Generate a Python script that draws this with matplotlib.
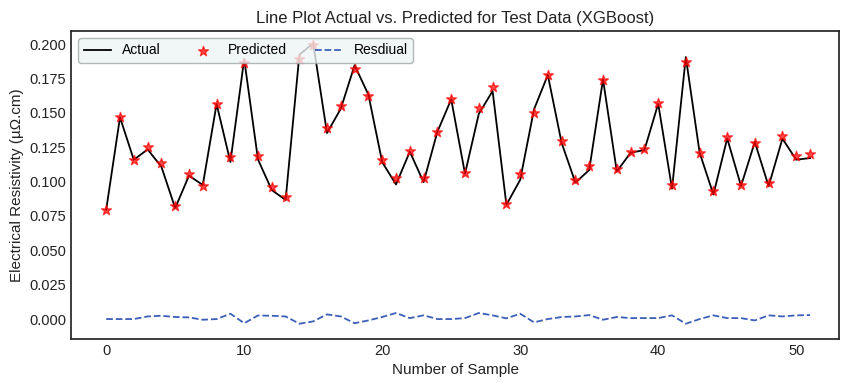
import matplotlib
matplotlib.use("Agg")
import matplotlib.pyplot as plt
import numpy as np

samples = list(range(52))
actual = [0.0795, 0.1467, 0.1158, 0.1234, 0.1108, 0.0807, 0.1043, 0.0975, 0.1564, 0.1142,
          0.1890, 0.1160, 0.0938, 0.0866, 0.1923, 0.2005, 0.1353, 0.1530, 0.1846, 0.1632,
          0.1141, 0.0979, 0.1217, 0.0996, 0.1362, 0.1598, 0.1057, 0.1493, 0.1658, 0.0831,
          0.1013, 0.1525, 0.1775, 0.1282, 0.0992, 0.1084, 0.1743, 0.1073, 0.1210, 0.1229,
          0.1566, 0.0948, 0.1906, 0.1210, 0.0906, 0.1314, 0.0968, 0.1288, 0.0966, 0.1312,
          0.1159, 0.1171]
predicted = [0.0795, 0.1467, 0.1158, 0.1253, 0.1132, 0.0822, 0.1055, 0.0970, 0.1564, 0.1181,
             0.1860, 0.1186, 0.0962, 0.0885, 0.1889, 0.1990, 0.1387, 0.1549, 0.1816, 0.1622,
             0.1156, 0.1023, 0.1224, 0.1023, 0.1362, 0.1598, 0.1064, 0.1537, 0.1685, 0.0836,
             0.1052, 0.1501, 0.1775, 0.1297, 0.1011, 0.1113, 0.1738, 0.1088, 0.1217, 0.1236,
             0.1573, 0.0975, 0.1872, 0.1210, 0.0933, 0.1321, 0.0975, 0.1278, 0.0993, 0.1331,
             0.1186, 0.1200]
residual = [0.0000, 0.0000, 0.0000, 0.0019, 0.0024, 0.0015, 0.0012, -0.0005, 0.0000, 0.0039,
            -0.0030, 0.0026, 0.0024, 0.0019, -0.0034, -0.0017, 0.0034, 0.0019, -0.0030, -0.0010,
            0.0015, 0.0044, 0.0007, 0.0027, 0.0000, 0.0000, 0.0007, 0.0044, 0.0027, 0.0005,
            0.0039, -0.0024, 0.0000, 0.0015, 0.0019, 0.0029, -0.0005, 0.0015, 0.0007, 0.0007,
            0.0007, 0.0027, -0.0034, 0.0000, 0.0027, 0.0007, 0.0007, -0.0010, 0.0027, 0.0019,
            0.0027, 0.0029]
yticks = [0.0, 0.025, 0.05, 0.075, 0.1, 0.125, 0.15, 0.175, 0.2]
xticks = [0, 10, 20, 30, 40, 50]

plt.rcParams['font.family'] = ['Liberation Sans', 'DejaVu Sans']

W, H = 841, 383
fig = plt.figure(figsize=(W / 100, H / 100), dpi=100)
left, right, top, bottom = 71, 839, 31, 339
ax = fig.add_axes([left / W, 1 - bottom / H, (right - left) / W, (bottom - top) / H])

ax.plot(samples, actual, color='black', lw=1.3, label='Actual')
ax.scatter(samples, predicted, marker='*', color='red', s=55, alpha=0.7, label='Predicted', zorder=3)
ax.plot(samples, residual, color='#3c5fb8', lw=1.3, ls='--', label='Resdiual')

ax.set_xlim(-2.55, 53.1)
ax.set_ylim(-0.0145, 0.2095)

ax.set_title('Line Plot Actual vs. Predicted for Test Data (XGBoost)', fontsize=12, color='#222222')
ax.set_xlabel('Number of Sample', fontsize=11, color='#222222')
ax.set_ylabel('Electrical Resistivity (µΩ.cm)', fontsize=11, color='#222222')
ax.set_yticks(yticks)
ax.set_xticks(xticks)
ax.tick_params(labelsize=10.5, colors='#222222', length=0)
for s in ax.spines.values():
    s.set_color('#262626')
    s.set_linewidth(1.25)

leg = ax.legend(loc='upper left', ncol=3, fontsize=10, frameon=True, borderaxespad=0.5,
                handlelength=2.0, columnspacing=2.0)
leg.get_frame().set_facecolor('#eef4f4')
leg.get_frame().set_edgecolor('#a0a8a8')

fig.savefig('out.png', dpi=100)
